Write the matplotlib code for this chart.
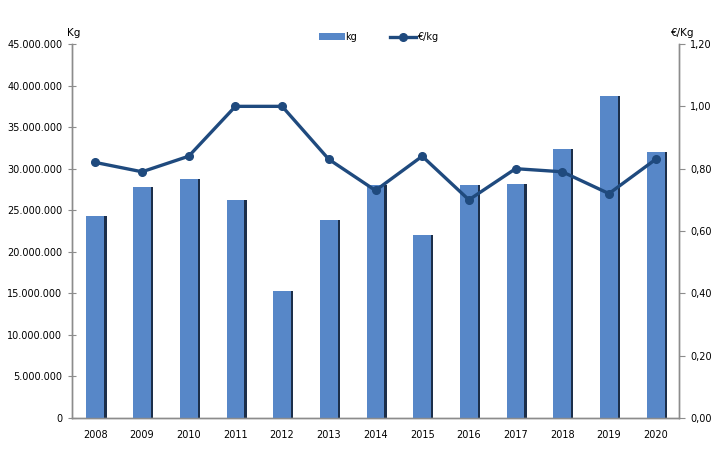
import matplotlib
matplotlib.use("Agg")
from matplotlib import pyplot as plt
from matplotlib.ticker import FuncFormatter, MultipleLocator
import numpy as np

# data
years = ["2008", "2009", "2010", "2011", "2012", "2013", "2014",
         "2015", "2016", "2017", "2018", "2019", "2020"]
kg = [24.3e6, 27.8e6, 28.7e6, 26.2e6, 15.3e6, 23.8e6, 28.0e6,
      22.0e6, 28.0e6, 28.2e6, 32.4e6, 38.7e6, 32.0e6]
eur_kg = [0.82, 0.79, 0.84, 1.00, 1.00, 0.83, 0.73,
          0.84, 0.70, 0.80, 0.79, 0.72, 0.83]

bar_color = "#5787C8"
shadow_color = "#1C2F4A"
line_color = "#1F4A7E"
axis_color = "#8C8C8C"
fs = 7

plt.rcParams["font.family"] = ["DejaVu Sans"]

fig = plt.figure(figsize=(7.28, 4.51), dpi=100)
ax = fig.add_axes([0.0989, 0.0732, 0.8338, 0.8292])
ax2 = ax.twinx()

x = np.arange(len(years))
width = 0.38

# dark shadow on the right side of each bar, then the bar itself
ax.bar(x + 0.05, kg, width=width, color=shadow_color, zorder=2)
ax.bar(x, kg, width=width, color=bar_color, zorder=3, label="kg")

ax2.plot(x, eur_kg, color=line_color, linewidth=2.4, marker="o",
         markersize=5.5, label="€/kg", zorder=4)

ax.set_xlim(-0.5, len(years) - 0.5)
ax.set_ylim(0, 45e6)
ax2.set_ylim(0, 1.2)
ax.yaxis.set_major_locator(MultipleLocator(5e6))
ax2.yaxis.set_major_locator(MultipleLocator(0.2))

ax.yaxis.set_major_formatter(
    FuncFormatter(lambda v, p: f"{int(round(v)):,}".replace(",", ".")))
ax2.yaxis.set_major_formatter(
    FuncFormatter(lambda v, p: f"{v:.2f}".replace(".", ",")))

ax.set_xticks(x)
ax.set_xticklabels(years)

for a in (ax, ax2):
    a.spines["top"].set_visible(False)
    for s in ("left", "right", "bottom"):
        a.spines[s].set_color(axis_color)
        a.spines[s].set_linewidth(1.0)

ax.tick_params(axis="x", length=0, labelsize=fs, pad=9, colors="black")
ax.tick_params(axis="y", direction="inout", length=6, labelsize=fs,
               color=axis_color, pad=4)
ax2.tick_params(axis="y", direction="out", length=4, labelsize=fs,
                color=axis_color, pad=4)

ax.set_zorder(ax2.get_zorder() - 1)
ax.patch.set_visible(False)

fig.text(0.092, 0.915, "Kg", fontsize=fs + 0.5, ha="left", va="bottom")
fig.text(0.922, 0.915, "€/Kg", fontsize=fs + 0.5, ha="left", va="bottom")

h1, l1 = ax.get_legend_handles_labels()
h2, l2 = ax2.get_legend_handles_labels()
fig.legend(h1[-1:] + h2, ["kg", "€/kg"], loc="center",
           bbox_to_anchor=(0.52, 0.918), ncol=2, frameon=False,
           fontsize=fs, handlelength=2.6, handletextpad=0.1,
           columnspacing=3.4)

fig.savefig("out.png", dpi=100)
plt.close("all")
